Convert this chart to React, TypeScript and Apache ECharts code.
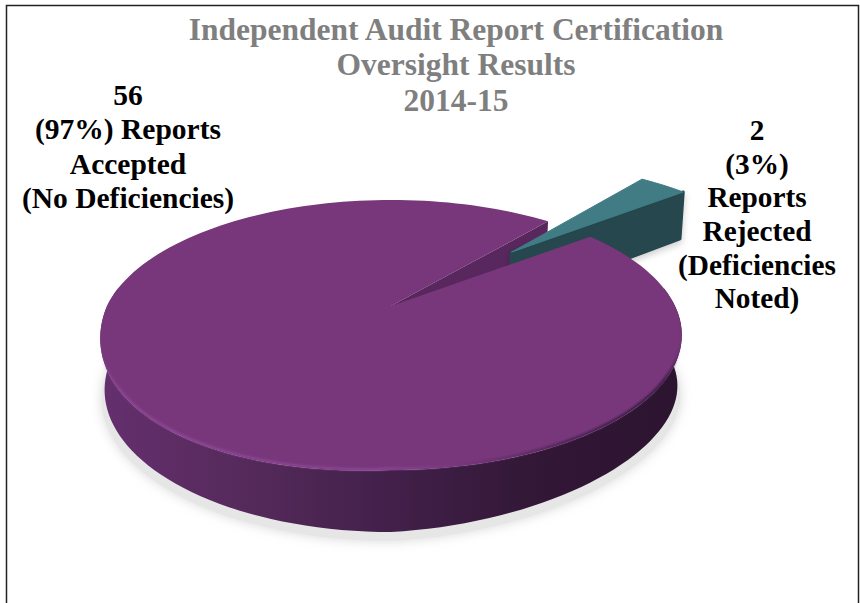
import React, { useEffect, useRef } from "react";
import * as echarts from "echarts";

const categories = ["Reports Accepted (No Deficiencies)", "Reports Rejected (Deficiencies Noted)"];
const values = [56, 2];
const titleLines = ["Independent Audit Report Certification", "Oversight Results", "2014-15"];
const acceptedLabel = ["56", "(97%) Reports", "Accepted", "(No Deficiencies)"];
const rejectedLabel = ["2", "(3%)", "Reports", "Rejected", "(Deficiencies", "Noted)"];

const CX = 391, CY = 306, A = 284, B = 128.8, K = 0.2148;
const START = 37.5;
const OFFSET = 0.66;
const rad = (d: number) => (d * Math.PI) / 180;

function project(X: number, Y: number, lower = false): number[] {
  const w = 1 + K * Y;
  const x = A * X / w;
  const y = -B * Y / w;
  if (!lower) return [CX + x, CY + y + 16 * Math.max(0, -X) * Math.max(0, -Y)];
  return [CX + x * 0.985, CY + y + 53.4 / Math.pow(w, 0.617) - 20 * Math.max(0, X) * Math.max(0, -Y)];
}

function arc(from: number, to: number, ox = 0, oy = 0, lower = false): number[][] {
  const pts: number[][] = [];
  const n = Math.max(2, Math.ceil(Math.abs(to - from) / 2));
  for (let i = 0; i <= n; i++) {
    const t = rad(from + ((to - from) * i) / n);
    pts.push(project(ox + Math.cos(t), oy + Math.sin(t), lower));
  }
  return pts;
}

function renderItem(params: any, api: any) {
  const total = values.reduce((a, b) => a + b, 0);
  const sweep = (api.value(0) / total) * 360;
  if (params.dataIndex === 1) {
    const a0 = START, a1 = START + sweep, mid = (a0 + a1) / 2;
    const ox = OFFSET * Math.cos(rad(mid)), oy = (OFFSET + 0.04) * Math.sin(rad(mid));
    const tx = 0.645 * Math.cos(rad(mid)), ty = 0.665 * Math.sin(rad(mid));
    const top = [project(tx, ty), ...arc(a0, a1, ox, oy)];
    const wall = [
      project(tx, ty), ...arc(a0, a1, ox, oy).slice(0, 1),
      ...arc(a0, a1, ox + 0.005, oy, true).slice(0, 1), project(tx, ty, true),
    ];
    return {
      type: "group",
      children: [
        { type: "polygon", z2: 10, shape: { points: wall }, style: { fill: "#25474e", stroke: "#25474e", lineJoin: "round", lineWidth: 3, shadowBlur: 7, shadowColor: "rgba(0,0,0,0.2)", shadowOffsetY: 3 } },
        { type: "polygon", z2: 11, shape: { points: top }, style: { fill: "#417c85", stroke: "#417c85", lineJoin: "round", lineWidth: 1 } },
      ],
    };
  }
  const a0 = START + (values[1] / total) * 360;
  const a1 = a0 + sweep;
  const top = [project(0, 0), ...arc(a0, a1)];
  const front = arc(172, 368);
  const frontLow = arc(172, 368, 0, 0, true);
  const wall = [...front, ...frontLow.slice().reverse()];
  const shadow = arc(0, 360, 0, 0, true).map((p) => [CX + (p[0] - CX) * 1.01, p[1] + 9]);
  const tc = Math.cos(rad(a0)), ts = Math.sin(rad(a0));
  const slit = [project(0, 0), project(tc, ts), project(tc, ts, true), project(0, 0, true)];
  const rim = arc(192, 352).map((p) => [p[0], p[1] - 1.5]);
  const rimStroke = (o: number) => ({
    type: "linear", x: 0, y: 0, x2: 1, y2: 0, colorStops: [
      { offset: 0, color: `rgba(138,69,147,0)` },
      { offset: 0.04, color: `rgba(138,69,147,${o})` },
      { offset: 0.5, color: `rgba(136,68,144,${o})` },
      { offset: 0.66, color: `rgba(110,50,115,${o})` },
      { offset: 0.85, color: `rgba(70,32,78,${o})` },
      { offset: 0.97, color: `rgba(60,28,69,${o})` },
      { offset: 1, color: `rgba(60,28,69,0)` },
    ],
  });
  return {
    type: "group",
    children: [
      { type: "polygon", z2: 1, shape: { points: shadow }, style: { fill: "#e6e6e6", shadowBlur: 12, shadowColor: "#d8d8d8" } },
      {
        type: "polygon", z2: 2, shape: { points: wall },
        style: {
          fill: { type: "linear", x: 0, y: 0, x2: 1, y2: 0, colorStops: [
            { offset: 0, color: "#652f6e" }, { offset: 0.25, color: "#552a5b" },
            { offset: 0.5, color: "#42204a" }, { offset: 0.75, color: "#321736" }, { offset: 1, color: "#2c1430" },
          ] },
        },
      },
      { type: "polygon", z2: 3, shape: { points: slit }, style: { fill: "#57275d" } },
      { type: "polygon", z2: 20, shape: { points: top }, style: { fill: "#77377a" } },
      { type: "polyline", z2: 21, shape: { points: rim }, style: { fill: "none", lineWidth: 5, stroke: rimStroke(0.3) } },
      { type: "polyline", z2: 22, shape: { points: rim }, style: { fill: "none", lineWidth: 2, stroke: rimStroke(0.75) } },
    ],
  };
}

const serif = "'Liberation Serif', 'Times New Roman', serif";

export default function App() {
  const ref = useRef<HTMLDivElement>(null);
  useEffect(() => {
    document.body.style.margin = "0";
    const chart = echarts.init(ref.current!, undefined, { renderer: "svg" });
    const textOf = (lines: string[], x: number, y: number, size: number, fill: string, lh: number) => ({
      type: "text", x, y, silent: true,
      style: { text: lines.join("\n"), x: 0, y: 0, align: "center", verticalAlign: "top", font: `bold ${size}px ${serif}`, fill, lineHeight: lh },
    });
    chart.setOption({
      animation: false,
      backgroundColor: "#ffffff",
      series: [{
        type: "custom",
        coordinateSystem: "none",
        renderItem,
        data: values.map((v, i) => ({ name: categories[i], value: [v] })),
      }],
      graphic: [
        { type: "rect", shape: { x: 6.5, y: 5.5, width: 852, height: 620 }, style: { fill: "none", stroke: "#222", lineWidth: 1.5 }, silent: true },
        textOf(titleLines, 456, 12, 31.5, "#7f7f7f", 35.3),
        textOf(acceptedLabel, 128, 78, 29.5, "#000", 34.3),
        textOf(rejectedLabel, 757, 113, 29.3, "#000", 33.7),
      ],
    });
    return () => chart.dispose();
  }, []);
  return <div ref={ref} style={{ position: "absolute", left: 0, top: 0, width: 860, height: 603 }} />;
}
